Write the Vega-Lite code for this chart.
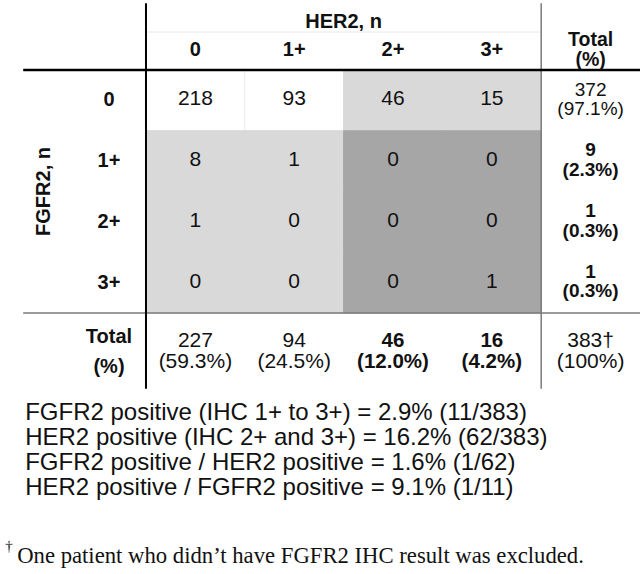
{
  "$schema": "https://vega.github.io/schema/vega-lite/v6.json",
  "width": 644,
  "height": 574,
  "autosize": {"type": "fit", "contains": "padding"},
  "padding": 0,
  "background": "white",
  "config": {"view": {"stroke": null}, "text": {"font": "Liberation Sans", "color": "#111111"}},
  "datasets": {
    "cells": [
      {"row": "0", "col": "0", "n": 218, "status": "neither"},
      {"row": "0", "col": "1+", "n": 93, "status": "neither"},
      {"row": "0", "col": "2+", "n": 46, "status": "HER2 only"},
      {"row": "0", "col": "3+", "n": 15, "status": "HER2 only"},
      {"row": "1+", "col": "0", "n": 8, "status": "FGFR2 only"},
      {"row": "1+", "col": "1+", "n": 1, "status": "FGFR2 only"},
      {"row": "1+", "col": "2+", "n": 0, "status": "both"},
      {"row": "1+", "col": "3+", "n": 0, "status": "both"},
      {"row": "2+", "col": "0", "n": 1, "status": "FGFR2 only"},
      {"row": "2+", "col": "1+", "n": 0, "status": "FGFR2 only"},
      {"row": "2+", "col": "2+", "n": 0, "status": "both"},
      {"row": "2+", "col": "3+", "n": 0, "status": "both"},
      {"row": "3+", "col": "0", "n": 0, "status": "FGFR2 only"},
      {"row": "3+", "col": "1+", "n": 0, "status": "FGFR2 only"},
      {"row": "3+", "col": "2+", "n": 0, "status": "both"},
      {"row": "3+", "col": "3+", "n": 1, "status": "both"}
    ],
    "rowTotals": [
      {"row": "0", "col": "Total", "label": "372\n(97.1%)", "positive": false},
      {"row": "1+", "col": "Total", "label": "9\n(2.3%)", "positive": true},
      {"row": "2+", "col": "Total", "label": "1\n(0.3%)", "positive": true},
      {"row": "3+", "col": "Total", "label": "1\n(0.3%)", "positive": true}
    ],
    "colTotals": [
      {"row": "Total", "col": "0", "label": "227\n(59.3%)", "positive": false},
      {"row": "Total", "col": "1+", "label": "94\n(24.5%)", "positive": false},
      {"row": "Total", "col": "2+", "label": "46\n(12.0%)", "positive": true},
      {"row": "Total", "col": "3+", "label": "16\n(4.2%)", "positive": true},
      {"row": "Total", "col": "Total", "label": "383†\n(100%)", "positive": false}
    ],
    "colHeaders": [
      {"row": "H", "col": "0", "label": "0"},
      {"row": "H", "col": "1+", "label": "1+"},
      {"row": "H", "col": "2+", "label": "2+"},
      {"row": "H", "col": "3+", "label": "3+"}
    ],
    "rowHeaders": [
      {"row": "0", "col": "R", "label": "0"},
      {"row": "1+", "col": "R", "label": "1+"},
      {"row": "2+", "col": "R", "label": "2+"},
      {"row": "3+", "col": "R", "label": "3+"}
    ]
  },
  "encoding": {
    "x": {"field": "col", "type": "nominal", "axis": null,
      "scale": {"domain": ["R", "0", "1+", "2+", "3+", "Total"], "paddingInner": 0, "paddingOuter": 0.259, "align": 0.922}},
    "y": {"field": "row", "type": "nominal", "axis": null,
      "scale": {"domain": ["H", "0", "1+", "2+", "3+", "Total", "N", "F"], "paddingInner": 0, "paddingOuter": 0.7243, "align": 0.105}}
  },
  "layer": [
    {
      "data": {"name": "cells"},
      "mark": {"type": "rect", "strokeWidth": 1},
      "encoding": {
        "fill": {"field": "status", "type": "nominal", "legend": null,
          "scale": {"domain": ["neither", "FGFR2 only", "HER2 only", "both"], "range": ["#ffffff", "#d9d9d9", "#d9d9d9", "#a6a6a6"]}},
        "stroke": {"field": "status", "type": "nominal", "legend": null,
          "scale": {"domain": ["neither", "FGFR2 only", "HER2 only", "both"], "range": ["#eeeeee", "#d9d9d9", "#d9d9d9", "#a6a6a6"]}}
      }
    },
    {
      "data": {"values": [{"row": "H", "from": "0", "to": "3+"}]},
      "mark": {"type": "rule", "color": "#e8e8e8", "strokeWidth": 1},
      "encoding": {
        "y": {"field": "row", "type": "nominal", "bandPosition": 0.375},
        "x": {"field": "from", "type": "nominal", "bandPosition": 0},
        "x2": {"field": "to", "bandPosition": 1}
      }
    },
    {
      "data": {"values": [{"row": "Total", "from": "R", "to": "Total"}]},
      "mark": {"type": "rule", "color": "#7a7a7a", "strokeWidth": 1.5, "xOffset": -24},
      "encoding": {
        "y": {"field": "row", "type": "nominal", "bandPosition": 0},
        "x": {"field": "from", "type": "nominal", "bandPosition": 0},
        "x2": {"field": "to", "bandPosition": 1}
      }
    },
    {
      "data": {"values": [{"col": "Total", "from": "H", "to": "Total"}]},
      "mark": {"type": "rule", "color": "#7a7a7a", "strokeWidth": 1.5, "yOffset": -6, "y2Offset": 15},
      "encoding": {
        "x": {"field": "col", "type": "nominal", "bandPosition": 0},
        "y": {"field": "from", "type": "nominal", "bandPosition": 0},
        "y2": {"field": "to", "bandPosition": 1}
      }
    },
    {
      "data": {"values": [{"row": "0", "from": "R", "to": "Total"}]},
      "mark": {"type": "rule", "color": "#000000", "strokeWidth": 2.5, "xOffset": -24},
      "encoding": {
        "y": {"field": "row", "type": "nominal", "bandPosition": 0},
        "x": {"field": "from", "type": "nominal", "bandPosition": 0},
        "x2": {"field": "to", "bandPosition": 1}
      }
    },
    {
      "data": {"values": [{"col": "0", "from": "H", "to": "Total"}]},
      "mark": {"type": "rule", "color": "#000000", "strokeWidth": 2, "yOffset": -6, "y2Offset": 15},
      "encoding": {
        "x": {"field": "col", "type": "nominal", "bandPosition": 0},
        "y": {"field": "from", "type": "nominal", "bandPosition": 0},
        "y2": {"field": "to", "bandPosition": 1}
      }
    },
    {
      "data": {"name": "cells"},
      "mark": {"type": "text", "fontSize": 21, "dy": -1},
      "encoding": {"text": {"field": "n", "type": "quantitative"}}
    },
    {
      "data": {"name": "rowTotals"},
      "transform": [{"filter": "!datum.positive"}],
      "mark": {"type": "text", "fontSize": 19, "lineBreak": "\n", "lineHeight": 19.5, "dy": -10.75},
      "encoding": {"text": {"field": "label", "type": "nominal"}}
    },
    {
      "data": {"name": "rowTotals"},
      "transform": [{"filter": "datum.positive"}],
      "mark": {"type": "text", "fontSize": 19, "fontWeight": "bold", "lineBreak": "\n", "lineHeight": 19.5, "dy": -10.75},
      "encoding": {"text": {"field": "label", "type": "nominal"}}
    },
    {
      "data": {"name": "colTotals"},
      "transform": [{"filter": "!datum.positive"}],
      "mark": {"type": "text", "fontSize": 21, "lineBreak": "\n", "lineHeight": 21, "dy": -2},
      "encoding": {"text": {"field": "label", "type": "nominal"}}
    },
    {
      "data": {"name": "colTotals"},
      "transform": [{"filter": "datum.positive"}],
      "mark": {"type": "text", "fontSize": 20.5, "fontWeight": "bold", "lineBreak": "\n", "lineHeight": 21, "dy": -2},
      "encoding": {"text": {"field": "label", "type": "nominal"}}
    },
    {
      "data": {"name": "colHeaders"},
      "mark": {"type": "text", "fontSize": 20, "fontWeight": "bold", "dy": 10.5},
      "encoding": {"text": {"field": "label", "type": "nominal"}}
    },
    {
      "data": {"values": [{"row": "H", "col": "Total", "label": "Total\n(%)"}]},
      "mark": {"type": "text", "fontSize": 19.5, "fontWeight": "bold", "lineBreak": "\n", "lineHeight": 20, "dy": 0},
      "encoding": {"text": {"field": "label", "type": "nominal"}}
    },
    {
      "data": {"values": [{"row": "H", "col": "2+", "label": "HER2, n"}]},
      "mark": {"type": "text", "fontSize": 20, "fontWeight": "bold", "dy": -18},
      "encoding": {
        "x": {"field": "col", "type": "nominal", "bandPosition": 0},
        "text": {"field": "label", "type": "nominal"}
      }
    },
    {
      "data": {"name": "rowHeaders"},
      "mark": {"type": "text", "fontSize": 20, "fontWeight": "bold", "dx": 12.4},
      "encoding": {"text": {"field": "label", "type": "nominal"}}
    },
    {
      "data": {"values": [{"row": "Total", "col": "R", "label": "Total\n(%)"}]},
      "mark": {"type": "text", "fontSize": 20, "fontWeight": "bold", "lineBreak": "\n", "lineHeight": 30, "dx": 12.4, "dy": -6.4},
      "encoding": {"text": {"field": "label", "type": "nominal"}}
    },
    {
      "data": {"values": [{"row": "2+", "col": "R", "label": "FGFR2, n"}]},
      "mark": {"type": "text", "fontSize": 20, "fontWeight": "bold", "angle": 270, "xOffset": -3},
      "encoding": {
        "x": {"field": "col", "type": "nominal", "bandPosition": 0},
        "y": {"field": "row", "type": "nominal", "bandPosition": 0},
        "text": {"field": "label", "type": "nominal"}
      }
    },
    {
      "data": {"values": [{"row": "N", "col": "R", "label": "FGFR2 positive (IHC 1+ to 3+) = 2.9% (11/383)\nHER2 positive (IHC 2+ and 3+) = 16.2% (62/383)\nFGFR2 positive / HER2 positive = 1.6% (1/62)\nHER2 positive / FGFR2 positive = 9.1% (1/11)"}]},
      "mark": {"type": "text", "fontSize": 24, "align": "left", "baseline": "alphabetic", "lineBreak": "\n", "lineHeight": 25, "dx": -22, "dy": 46.25},
      "encoding": {
        "x": {"field": "col", "type": "nominal", "bandPosition": 0},
        "y": {"field": "row", "type": "nominal", "bandPosition": 0},
        "text": {"field": "label", "type": "nominal"}
      }
    },
    {
      "data": {"values": [{"row": "F", "col": "R", "label": "One patient who didn’t have FGFR2 IHC result was excluded."}]},
      "mark": {"type": "text", "font": "Liberation Serif", "fontSize": 22.7, "align": "left", "baseline": "alphabetic", "dx": -30, "dy": 128.5},
      "encoding": {
        "x": {"field": "col", "type": "nominal", "bandPosition": 0},
        "y": {"field": "row", "type": "nominal", "bandPosition": 0},
        "text": {"field": "label", "type": "nominal"}
      }
    },
    {
      "data": {"values": [{"row": "F", "col": "R", "label": "†"}]},
      "mark": {"type": "text", "font": "Liberation Serif", "fontSize": 15, "align": "left", "baseline": "alphabetic", "dx": -42, "dy": 117},
      "encoding": {
        "x": {"field": "col", "type": "nominal", "bandPosition": 0},
        "y": {"field": "row", "type": "nominal", "bandPosition": 0},
        "text": {"field": "label", "type": "nominal"}
      }
    }
  ]
}
